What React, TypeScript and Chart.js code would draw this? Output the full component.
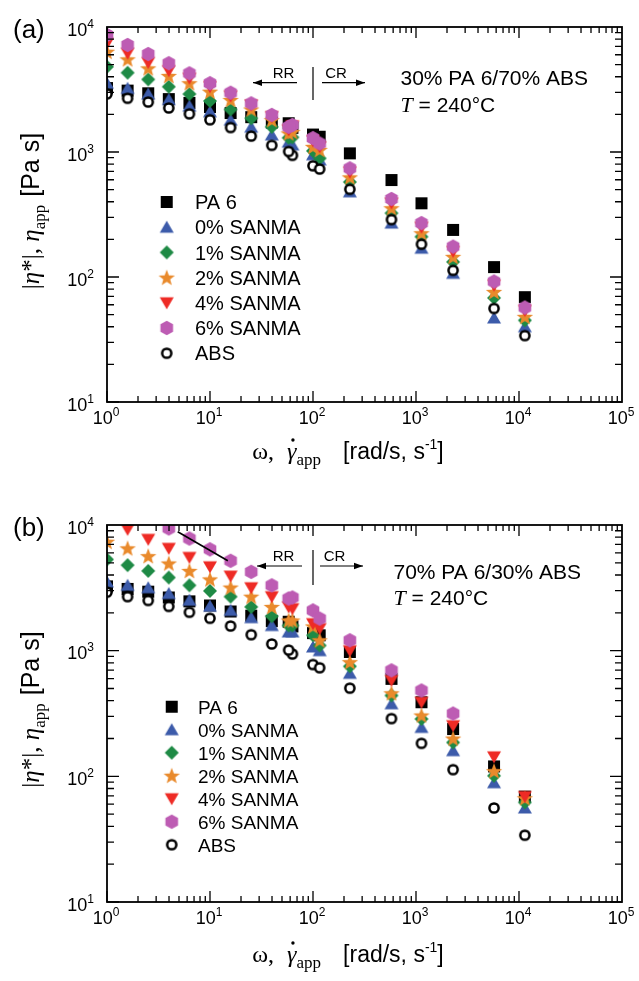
import React, { useEffect, useRef } from 'react';
import { Chart, registerables } from 'chart.js';
Chart.register(...registerables);

// ---------- data ----------
const X_OSC = [1, 1.585, 2.512, 3.981, 6.31, 10, 15.85, 25.12, 39.81, 63.1, 100];
const X_CAP = [58, 116, 228, 578, 1130, 2290, 5720, 11400];

const SERIES_LABELS = ['PA 6', '0% SANMA', '1% SANMA', '2% SANMA', '4% SANMA', '6% SANMA', 'ABS'];
const X_TICK_EXP = [0, 1, 2, 3, 4, 5];
const Y_TICK_EXP = [1, 2, 3, 4];

const PA6_OSC = [3250, 3100, 2950, 2650, 2470, 2290, 2050, 1900, 1720, 1560, 1380];
const PA6_CAP = [1700, 1325, 976, 597, 389, 238, 120, 69];
const ABS_OSC = [2920, 2690, 2510, 2250, 2020, 1810, 1570, 1340, 1130, 940, 776];
const ABS_CAP = [1010, 731, 503, 288, 183, 113, 56, 34];

// panel (a): 30% PA 6 / 70% ABS
const A0_OSC = [3550, 3230, 2910, 2630, 2330, 2100, 1800, 1580, 1370, 1140, 950];
const A0_CAP = [1200, 863, 480, 270, 170, 107, 47, 40];
const A1_OSC = [4810, 4310, 3810, 3330, 2910, 2560, 2190, 1860, 1590, 1310, 1020];
const A1_CAP = [1300, 890, 575, 324, 210, 132, 68, 45];
const A2_OSC = [6340, 5510, 4670, 4060, 3550, 3040, 2610, 2190, 1800, 1450, 1100];
const A2_CAP = [1410, 1040, 627, 355, 224, 145, 76, 48];
const A4_OSC = [7400, 6160, 5190, 4470, 3890, 3330, 2800, 2380, 1920, 1620, 1230];
const A4_CAP = [1500, 1100, 690, 390, 250, 160, 86, 54];
const A6_OSC = [8630, 7180, 6080, 5130, 4260, 3550, 2980, 2450, 1980, 1645, 1290];
const A6_CAP = [1590, 1170, 740, 421, 270, 175, 92, 57];

// panel (b): 70% PA 6 / 30% ABS
const B0_OSC = [3530, 3310, 3170, 2850, 2520, 2260, 2090, 1830, 1585, 1410, 1070];
const B0_CAP = [1410, 1000, 660, 378, 245, 160, 89, 56];
const B1_OSC = [5320, 4790, 4310, 3820, 3310, 2990, 2690, 2230, 1880, 1585, 1325];
const B1_CAP = [1585, 1100, 750, 440, 286, 186, 101, 62];
const B2_OSC = [7360, 6520, 5650, 4940, 4310, 3690, 3180, 2690, 2230, 1740, 1560];
const B2_CAP = [1740, 1210, 810, 458, 305, 200, 110, 67];
const B4_OSC = [null, 9230, 7690, 6520, 5520, 4650, 3920, 3170, 2690, 2160, 1640];
const B4_CAP = [2230, 1500, 1000, 580, 389, 253, 143, 69];
const B6_OSC = [null, null, null, 9400, 7800, 6400, 5190, 4240, 3310, 2650, 2090];
const B6_CAP = [2600, 1800, 1210, 697, 482, 316, null, null];

const FIT_X = [4.86, 14.9];
const FIT_Y = [8840, 5190];

// ---------- styling ----------
const SANS = "'Liberation Sans', Arial, Helvetica, sans-serif";
const SERIF = "'Liberation Serif', 'Times New Roman', serif";
const COLORS = ['#000000', '#3C5BAA', '#1E8A45', '#E98A2C', '#EE2B25', '#BD5CB3', '#000000'];
const SHAPES = ['square', 'triUp', 'diamond', 'star', 'triDown', 'hexagon', 'circle'];

function makeMarker(shape: string, color: string) {
  const s = 18;
  const c = document.createElement('canvas');
  c.width = s; c.height = s;
  const g = c.getContext('2d')!;
  const m = s / 2;
  g.fillStyle = color;
  g.beginPath();
  if (shape === 'square') {
    g.rect(m - 6, m - 6, 12, 12);
  } else if (shape === 'triUp') {
    g.moveTo(m, m - 6.5); g.lineTo(m + 7, m + 5.5); g.lineTo(m - 7, m + 5.5); g.closePath();
  } else if (shape === 'triDown') {
    g.moveTo(m, m + 6.5); g.lineTo(m + 7, m - 5.5); g.lineTo(m - 7, m - 5.5); g.closePath();
  } else if (shape === 'diamond') {
    g.moveTo(m, m - 7); g.lineTo(m + 7, m); g.lineTo(m, m + 7); g.lineTo(m - 7, m); g.closePath();
  } else if (shape === 'star') {
    for (let k = 0; k < 10; k++) {
      const r = k % 2 === 0 ? 8.6 : 3.6;
      const a = -Math.PI / 2 + (k * Math.PI) / 5;
      const px = m + r * Math.cos(a), py = m + 0.6 + r * Math.sin(a);
      if (k === 0) g.moveTo(px, py); else g.lineTo(px, py);
    }
    g.closePath();
  } else if (shape === 'hexagon') {
    for (let k = 0; k < 6; k++) {
      const a = -Math.PI / 2 + (k * Math.PI) / 3;
      const px = m + 7.3 * Math.cos(a), py = m + 7.3 * Math.sin(a);
      if (k === 0) g.moveTo(px, py); else g.lineTo(px, py);
    }
    g.closePath();
  }
  if (shape === 'circle') {
    g.arc(m, m, 4.6, 0, Math.PI * 2);
    g.fillStyle = '#ffffff';
    g.fill();
    g.lineWidth = 2.5;
    g.strokeStyle = color;
    g.stroke();
  } else {
    g.fill();
  }
  return c;
}

type Run = { t?: string; f?: string; dy?: number; gap?: number; dot?: number };

function runsWidth(ctx: CanvasRenderingContext2D, runs: Run[]) {
  let w = 0;
  for (const r of runs) {
    if (r.gap) { w += r.gap; continue; }
    ctx.font = r.f!;
    w += ctx.measureText(r.t!).width;
  }
  return w;
}

function drawRuns(ctx: CanvasRenderingContext2D, runs: Run[], x: number, y: number, align: string) {
  const w = runsWidth(ctx, runs);
  let cx = align === 'left' ? x : align === 'center' ? x - w / 2 : x - w;
  ctx.textAlign = 'left';
  ctx.textBaseline = 'alphabetic';
  for (const r of runs) {
    if (r.gap) { cx += r.gap; continue; }
    ctx.font = r.f!;
    ctx.fillText(r.t!, cx, y + (r.dy || 0));
    const rw = ctx.measureText(r.t!).width;
    if (r.dot) {
      ctx.beginPath();
      ctx.arc(cx + rw * 0.62, y - r.dot, 1.7, 0, Math.PI * 2);
      ctx.fill();
    }
    cx += rw;
  }
}

function arrow(ctx: CanvasRenderingContext2D, x1: number, x2: number, y: number, headAtStart: boolean) {
  ctx.beginPath();
  ctx.moveTo(x1, y); ctx.lineTo(x2, y);
  ctx.lineWidth = 1.2;
  ctx.stroke();
  const hx = headAtStart ? x1 : x2;
  const dir = headAtStart ? 1 : -1;
  ctx.beginPath();
  ctx.moveTo(hx, y);
  ctx.lineTo(hx + dir * 9, y - 3.2);
  ctx.lineTo(hx + dir * 9, y + 3.2);
  ctx.closePath();
  ctx.fill();
}

function makePoints(osc: (number | null)[], cap: (number | null)[]) {
  const pts: { x: number; y: number }[] = [];
  X_OSC.forEach((x, j) => { if (osc[j] != null) pts.push({ x, y: osc[j] as number }); });
  X_CAP.forEach((x, j) => { if (cap[j] != null) pts.push({ x, y: cap[j] as number }); });
  return pts;
}

function overlay(cfg: any, markers: HTMLCanvasElement[]) {
  return {
    id: 'overlay' + cfg.id,
    afterDraw(chart: any) {
      const ctx: CanvasRenderingContext2D = chart.ctx;
      const xs = chart.scales.x;
      const ys = chart.scales.y;
      const { left, right, top, bottom } = chart.chartArea;
      ctx.save();
      ctx.fillStyle = '#000';
      ctx.strokeStyle = '#000';

      // ticks
      ctx.lineWidth = 1.3;
      ctx.beginPath();
      for (let e = 0; e < 5; e++) {
        for (let k = 1; k <= 9; k++) {
          const px = xs.getPixelForValue(k * Math.pow(10, e));
          const len = k === 1 ? 11 : 6;
          ctx.moveTo(px, bottom); ctx.lineTo(px, bottom - len);
          ctx.moveTo(px, top); ctx.lineTo(px, top + len);
        }
      }
      for (let e = 1; e < 4; e++) {
        for (let k = 1; k <= 9; k++) {
          const py = ys.getPixelForValue(k * Math.pow(10, e));
          const len = k === 1 ? 12 : 7;
          ctx.moveTo(left, py); ctx.lineTo(left + len, py);
          ctx.moveTo(right, py); ctx.lineTo(right - len, py);
        }
      }
      ctx.stroke();

      // frame
      ctx.lineWidth = 1.8;
      ctx.strokeRect(left, top, right - left, bottom - top);

      // tick labels
      const big = '18px ' + SANS;
      const sup = '12px ' + SANS;
      for (const e of X_TICK_EXP) {
        const px = xs.getPixelForValue(Math.pow(10, e));
        drawRuns(ctx, [{ t: '10', f: big }, { t: String(e), f: sup, dy: -8 }], px - 1, bottom + 22, 'center');
      }
      for (const e of Y_TICK_EXP) {
        const py = ys.getPixelForValue(Math.pow(10, e));
        drawRuns(ctx, [{ t: '10', f: big }, { t: String(e), f: sup, dy: -8 }], 94, py + 8.5, 'right');
      }

      // panel label
      ctx.font = '26px ' + SANS;
      ctx.textAlign = 'left';
      ctx.fillText(cfg.label, 13, cfg.labelY);

      // axis titles
      drawRuns(ctx, [
        { t: 'ω,', f: '24px ' + SERIF },
        { gap: 13 },
        { t: 'γ', f: 'italic 24px ' + SERIF, dot: 19 },
        { t: 'app', f: '17px ' + SERIF, dy: 6 },
        { gap: 22 },
        { t: '[rad/s, s', f: '23px ' + SANS },
        { t: '-1', f: '14px ' + SANS, dy: -10 },
        { t: ']', f: '23px ' + SANS },
      ], 348, cfg.xTitleY, 'center');

      ctx.save();
      ctx.translate(39, cfg.yTitleY);
      ctx.rotate(-Math.PI / 2);
      drawRuns(ctx, [
        { t: '|', f: '25px ' + SERIF },
        { t: 'η', f: 'italic 25px ' + SERIF },
        { t: '*|, ', f: '25px ' + SERIF },
        { t: 'η', f: 'italic 25px ' + SERIF },
        { t: 'app', f: '17px ' + SERIF, dy: 6 },
        { gap: 8 },
        { t: '[Pa s]', f: '25px ' + SANS },
      ], 0, 0, 'center');
      ctx.restore();

      // RR / CR annotation
      ctx.font = '15px ' + SANS;
      ctx.textAlign = 'center';
      ctx.fillText('RR', cfg.rrX, cfg.rrY);
      ctx.fillText('CR', cfg.crX, cfg.rrY);
      arrow(ctx, cfg.lArrow[0], cfg.lArrow[1], cfg.arrowY, true);
      arrow(ctx, cfg.rArrow[0], cfg.rArrow[1], cfg.arrowY, false);
      ctx.beginPath();
      ctx.lineWidth = 1.2;
      ctx.moveTo(cfg.vLineX, cfg.vLine[0]);
      ctx.lineTo(cfg.vLineX, cfg.vLine[1]);
      ctx.stroke();

      // blend text
      drawRuns(ctx, [{ t: cfg.blend, f: '21px ' + SANS }], cfg.textX, cfg.blendY, 'left');
      drawRuns(ctx, [
        { t: 'T', f: 'italic 22px ' + SERIF },
        { t: ' = 240°C', f: '21px ' + SANS },
      ], cfg.textX, cfg.tY, 'left');

      // legend
      SERIES_LABELS.forEach((lab, i) => {
        const ry = cfg.legY0 + i * cfg.legStep;
        const m = markers[i];
        ctx.drawImage(m, cfg.legMX - m.width / 2, ry - m.height / 2);
        ctx.font = cfg.legFont + 'px ' + SANS;
        ctx.textAlign = 'left';
        ctx.fillText(lab, cfg.legTX, ry + cfg.legFont * 0.36);
      });

      ctx.restore();
    },
  };
}

const PANEL_A = {
  id: 'a', label: '(a)', top: 0, height: 490, padTop: 27, padBottom: 88, labelY: 38,
  series: [[PA6_OSC, PA6_CAP], [A0_OSC, A0_CAP], [A1_OSC, A1_CAP], [A2_OSC, A2_CAP], [A4_OSC, A4_CAP], [A6_OSC, A6_CAP], [ABS_OSC, ABS_CAP]],
  fit: false,
  xTitleY: 459, yTitleY: 211,
  rrX: 283.5, crX: 336, rrY: 77.5, arrowY: 82.7, lArrow: [253, 297], rArrow: [322, 365], vLineX: 313, vLine: [67, 100],
  blend: '30% PA 6/70% ABS', textX: 400.5, blendY: 84.5, tY: 112,
  legY0: 202, legStep: 25.2, legMX: 166.7, legTX: 195, legFont: 20,
};

const PANEL_B = {
  id: 'b', label: '(b)', top: 490, height: 491, padTop: 35, padBottom: 79, labelY: 46,
  series: [[PA6_OSC, PA6_CAP], [B0_OSC, B0_CAP], [B1_OSC, B1_CAP], [B2_OSC, B2_CAP], [B4_OSC, B4_CAP], [B6_OSC, B6_CAP], [ABS_OSC, ABS_CAP]],
  fit: true,
  xTitleY: 472, yTitleY: 219.5,
  rrX: 283.5, crX: 334.5, rrY: 70.5, arrowY: 76, lArrow: [257, 302], rArrow: [320, 363], vLineX: 313, vLine: [60, 95],
  blend: '70% PA 6/30% ABS', textX: 393.5, blendY: 88.5, tY: 114.5,
  legY0: 216.7, legStep: 23, legMX: 171.7, legTX: 198, legFont: 19,
};

function Panel({ cfg }: { cfg: any }) {
  const ref = useRef<HTMLCanvasElement>(null);
  useEffect(() => {
    const markers = SHAPES.map((s, i) => makeMarker(s, COLORS[i]));
    const datasets: any[] = cfg.series.map((ser: any, i: number) => ({
      type: 'scatter',
      label: SERIES_LABELS[i],
      data: makePoints(ser[0], ser[1]),
      pointStyle: markers[i],
      pointRadius: 7,
      pointHoverRadius: 7,
      borderWidth: 0,
      backgroundColor: COLORS[i],
      showLine: false,
      clip: 0,
      order: 6 - i,
    }));
    if (cfg.fit) {
      datasets.push({
        type: 'line',
        label: 'fit',
        data: FIT_X.map((x, j) => ({ x, y: FIT_Y[j] })),
        borderColor: '#000',
        borderWidth: 1.6,
        pointRadius: 0,
        fill: false,
        clip: 0,
        order: -1,
      });
    }
    const chart = new Chart(ref.current!, {
      type: 'scatter',
      data: { datasets },
      options: {
        animation: false,
        responsive: false,
        events: [],
        layout: { padding: { left: 107, right: 17, top: cfg.padTop, bottom: cfg.padBottom } },
        plugins: { legend: { display: false }, tooltip: { enabled: false } },
        scales: {
          x: { type: 'logarithmic', min: 1, max: 100000, display: false },
          y: { type: 'logarithmic', min: 10, max: 10000, display: false },
        },
      },
      plugins: [overlay(cfg, markers)],
    } as any);
    return () => chart.destroy();
  }, []);
  return (
    <canvas
      ref={ref}
      width={639}
      height={cfg.height}
      style={{ position: 'absolute', left: 0, top: cfg.top, width: 639, height: cfg.height }}
    />
  );
}

export default function App() {
  return (
    <div style={{ position: 'absolute', left: 0, top: 0, width: 639, height: 981, background: '#fff' }}>
      <Panel cfg={PANEL_A} />
      <Panel cfg={PANEL_B} />
    </div>
  );
}
